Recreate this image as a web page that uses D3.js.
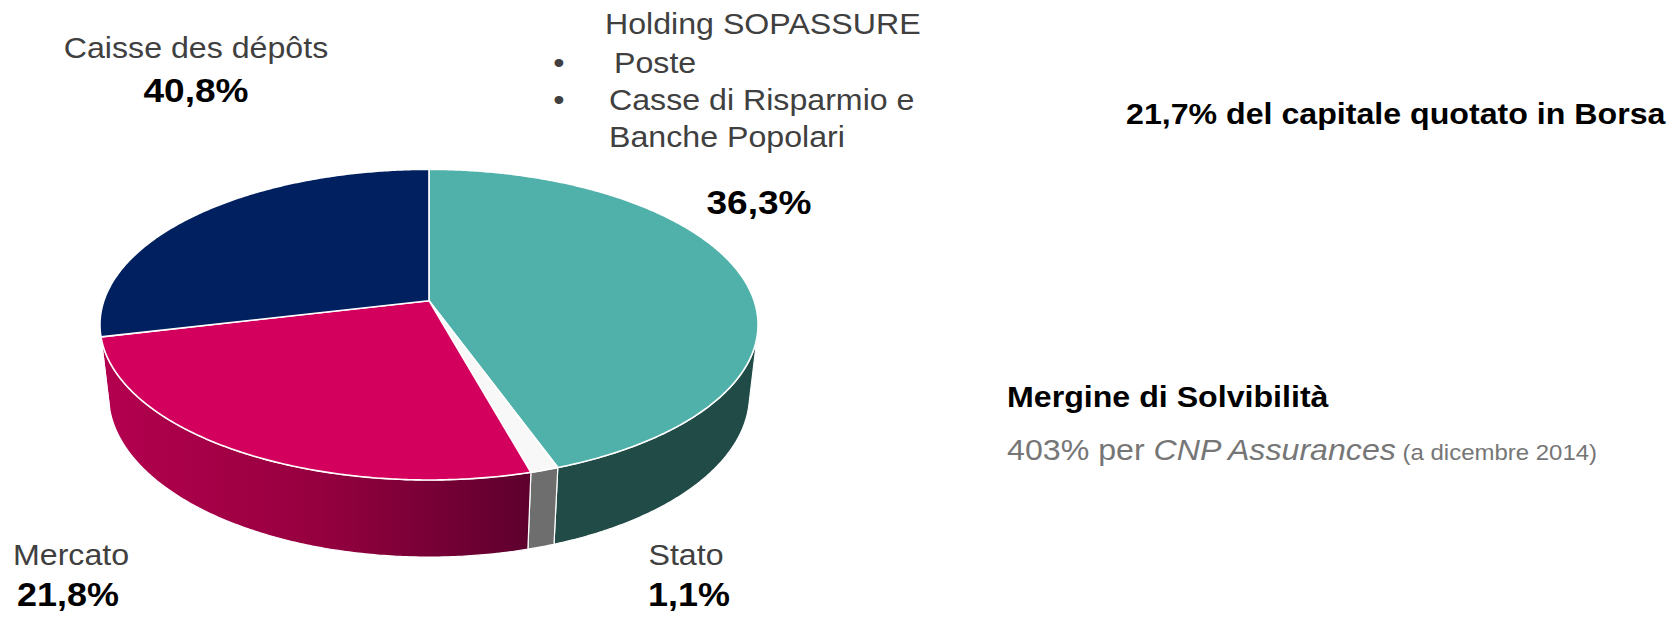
<!DOCTYPE html>
<html>
<head>
<meta charset="utf-8">
<script src="https://cdn.jsdelivr.net/npm/d3@7"></script>
<style>
  html, body { margin: 0; padding: 0; background: #fff; }
  svg { display: block; font-family: "Liberation Sans", Arial, sans-serif; }
</style>
</head>
<body>
<svg id="chart"></svg>
<script>
// slices clockwise from 12 o'clock, shares as drawn in the picture
const sliceNames = ["Holding SOPASSURE", "Stato", "Mercato", "Caisse des dépôts"];
const sliceShares = [44.5, 1.2, 25.6, 28.7];
const sliceLabels = ["36,3%", "1,1%", "21,8%", "40,8%"];
const sopassureMembers = ["Poste", "Casse di Risparmio e", "Banche Popolari"];
const quotedNote = "21,7% del capitale quotato in Borsa";
const solvencyTitle = "Mergine di Solvibilità";
const solvencyParts = ["403% per ", "CNP Assurances", " (a dicembre 2014)"];

const width = 1680, height = 617;
const svg = d3.select("#chart").attr("width", width).attr("height", height);
const defs = svg.append("defs");

const topColors = ["#4fb1a9", "#f8f8f8", "#d4005e", "#012060"];
const sideColors = ["#214b47", "#6e6e6e", "url(#pinkSide)", "#00163f"];

const grad = defs.append("linearGradient")
  .attr("id", "pinkSide")
  .attr("gradientUnits", "userSpaceOnUse")
  .attr("x1", 100).attr("x2", 535).attr("y1", 0).attr("y2", 0);
grad.append("stop").attr("offset", 0).attr("stop-color", "#b4004f");
grad.append("stop").attr("offset", 0.5).attr("stop-color", "#96003f");
grad.append("stop").attr("offset", 1).attr("stop-color", "#5c002d");

// simple perspective view of a tilted disc
const cx = 429, cy = 300.7, focal = 1645, dist = 5.566, stretch = 1.1, depth = 0.2835;
const sinT = 0.513, cosT = Math.sqrt(1 - sinT * sinT);

function project(a, r, y) {
  const X = r * Math.sin(a), Z = -r * Math.cos(a);
  const yc = y * cosT - Z * sinT, zc = y * sinT + Z * cosT;
  const s = focal / (dist - zc);
  return [cx + stretch * X * s, cy - yc * s];
}

function arcPoints(a0, a1, y) {
  const n = Math.max(2, Math.ceil(Math.abs(a1 - a0) / (Math.PI / 360)));
  return d3.range(n + 1).map((i) => project(a0 + ((a1 - a0) * i) / n, 1, y));
}

const line = d3.line();
const arcs = d3.pie().sort(null).value((d) => d)(sliceShares);

// the side wall faces the viewer where cos(a) < -1/(dist*cosT)
const visHalf = Math.acos(-1 / (dist * cosT));
const vis0 = visHalf, vis1 = 2 * Math.PI - visHalf;

const sides = svg.append("g");
arcs.forEach((d, i) => {
  const a0 = Math.max(d.startAngle, vis0), a1 = Math.min(d.endAngle, vis1);
  if (a1 <= a0) return;
  const pts = arcPoints(a0, a1, 0).concat(arcPoints(a1, a0, -depth));
  sides.append("path")
    .attr("d", line(pts) + "Z")
    .attr("fill", sideColors[i])
    .attr("stroke", "#ffffff")
    .attr("stroke-width", 1.2)
    .attr("stroke-linejoin", "round");
});

const tops = svg.append("g");
arcs.forEach((d, i) => {
  const pts = [project(0, 0, 0)].concat(arcPoints(d.startAngle, d.endAngle, 0));
  tops.append("path")
    .attr("d", line(pts) + "Z")
    .attr("fill", topColors[i])
    .attr("stroke", "#ffffff")
    .attr("stroke-width", 1.6)
    .attr("stroke-linejoin", "round");
});

// text, slightly widened like the source slide
const ts = 1.09;
function label(x, y, txt, size, opts = {}) {
  return svg.append("text")
    .attr("transform", `translate(${x},${y}) scale(${ts},1)`)
    .attr("text-anchor", opts.anchor || "start")
    .attr("font-size", size)
    .attr("font-weight", opts.bold ? "bold" : "normal")
    .attr("fill", opts.color || "#404040")
    .text(txt);
}

label(196, 58, sliceNames[3], 29.5, { anchor: "middle" });
label(196, 102, sliceLabels[3], 34, { anchor: "middle", bold: true, color: "#000" });

label(605, 34, sliceNames[0], 29.5);
const bulletY = [73, 110];
bulletY.forEach((y) => label(559, y, "•", 29.5, { anchor: "middle" }));
label(614, 73, sopassureMembers[0], 29.5);
label(609, 110, sopassureMembers[1], 29.5);
label(609, 147, sopassureMembers[2], 29.5);
label(759, 214, sliceLabels[0], 34, { anchor: "middle", bold: true, color: "#000" });

label(13, 565, sliceNames[2], 29.5);
label(68, 606, sliceLabels[2], 33, { anchor: "middle", bold: true, color: "#000" });
label(686, 565, sliceNames[1], 29.5, { anchor: "middle" });
label(689, 606, sliceLabels[1], 33, { anchor: "middle", bold: true, color: "#000" });

label(1126, 124, quotedNote, 29.5, { bold: true, color: "#000" });
label(1007, 407, solvencyTitle, 29.5, { bold: true, color: "#000" });

const sol = label(1007, 460, "", 29.5, { color: "#767676" });
sol.append("tspan").text(solvencyParts[0]);
sol.append("tspan").attr("font-style", "italic").text(solvencyParts[1]);
sol.append("tspan").attr("font-size", 22).text(solvencyParts[2]);
</script>
</body>
</html>
